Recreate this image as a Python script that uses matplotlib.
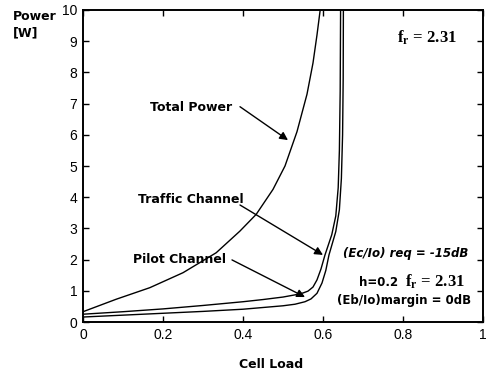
import matplotlib
matplotlib.use("Agg")
from matplotlib import pyplot as plt

# values
total_load = [0.0, 0.083, 0.167, 0.25, 0.333, 0.392, 0.433, 0.475, 0.505, 0.535, 0.56, 0.575, 0.585, 0.593]
total_power = [0.33, 0.73, 1.1, 1.58, 2.22, 2.91, 3.45, 4.25, 5.0, 6.1, 7.3, 8.3, 9.2, 10.0]

traffic_load = [0.0, 0.1, 0.2, 0.3, 0.4, 0.45, 0.5, 0.53, 0.55, 0.5625, 0.575, 0.585, 0.595,
                0.605, 0.622, 0.632, 0.638, 0.641, 0.643, 0.644]
traffic_power = [0.25, 0.33, 0.42, 0.53, 0.65, 0.72, 0.8, 0.87, 0.93, 0.99, 1.12, 1.35, 1.7,
                 2.15, 2.8, 3.4, 4.3, 5.5, 7.4, 10.0]

pilot_load = [0.0, 0.1, 0.2, 0.3, 0.4, 0.5, 0.53, 0.555, 0.57, 0.585, 0.5975, 0.607, 0.615,
              0.632, 0.641, 0.646, 0.649, 0.6505, 0.651]
pilot_power = [0.16, 0.22, 0.28, 0.34, 0.41, 0.52, 0.57, 0.65, 0.74, 0.92, 1.25, 1.65, 2.15,
               2.9, 3.6, 4.6, 6.0, 7.8, 10.0]

x_ticks = [0, 0.2, 0.4, 0.6, 0.8, 1]
x_tick_labels = ["0", "0.2", "0.4", "0.6", "0.8", "1"]
y_ticks = list(range(0, 11))

plt.rcParams["font.family"] = ["Liberation Sans", "DejaVu Sans"]
plt.rcParams["mathtext.fontset"] = "stix"

fig = plt.figure(figsize=(4.95, 3.7), dpi=100)
ax = fig.add_axes([0.1677, 0.1297, 0.808, 0.8433])

ax.plot(total_load, total_power, color="black", lw=1.0)
ax.plot(traffic_load, traffic_power, color="black", lw=1.0)
ax.plot(pilot_load, pilot_power, color="black", lw=1.0)

ax.set_xlim(0, 1)
ax.set_ylim(0, 10)
ax.set_xticks(x_ticks)
ax.set_xticklabels(x_tick_labels)
ax.set_yticks(y_ticks)
ax.tick_params(direction="in", top=True, right=True, length=4, width=1.0,
               labelsize=10, pad=4)
for s in ax.spines.values():
    s.set_linewidth(1.4)

bold = ["DejaVu Sans"]
ax.set_xlabel("Cell Load", fontsize=9, fontweight="bold", family=bold, x=0.47, labelpad=12)
fig.text(0.026, 0.955, "Power", fontsize=9, fontweight="bold", family=bold, va="center")
fig.text(0.026, 0.91, "[W]", fontsize=9, fontweight="bold", family=bold, va="center")

# labels and arrows
arrow = dict(arrowstyle="-|>", color="black", lw=1.0, mutation_scale=12, shrinkA=0, shrinkB=0)
ax.text(0.1675, 6.86, "Total Power", fontsize=9, fontweight="bold", family=bold, va="center")
ax.annotate("", xy=(0.5125, 5.83), xytext=(0.3925, 6.9), arrowprops=arrow)
ax.text(0.1375, 3.94, "Traffic Channel", fontsize=9, fontweight="bold", family=bold, va="center")
ax.annotate("", xy=(0.6, 2.15), xytext=(0.3925, 3.75), arrowprops=arrow)
ax.text(0.125, 1.99, "Pilot Channel", fontsize=9, fontweight="bold", family=bold, va="center")
ax.annotate("", xy=(0.555, 0.8), xytext=(0.3725, 1.99), arrowprops=arrow)

serif = ["Liberation Serif", "DejaVu Serif"]
ax.text(0.785, 9.1, r"f$_\mathregular{r}$ = 2.31", fontsize=12, fontweight="bold",
        family=serif, va="center")
ax.text(0.65, 2.21, "(Ec/Io) req = -15dB", fontsize=8.5, fontweight="bold",
        family=bold, style="italic", va="center")
ax.text(0.69, 1.28, "h=0.2", fontsize=8.5, fontweight="bold", family=bold, va="center")
ax.text(0.805, 1.28, r"f$_\mathregular{r}$ = 2.31", fontsize=12, fontweight="bold",
        family=serif, va="center")
ax.text(0.635, 0.705, "(Eb/Io)margin = 0dB", fontsize=8.5, fontweight="bold",
        family=bold, va="center")

fig.savefig("out.png", dpi=100)
